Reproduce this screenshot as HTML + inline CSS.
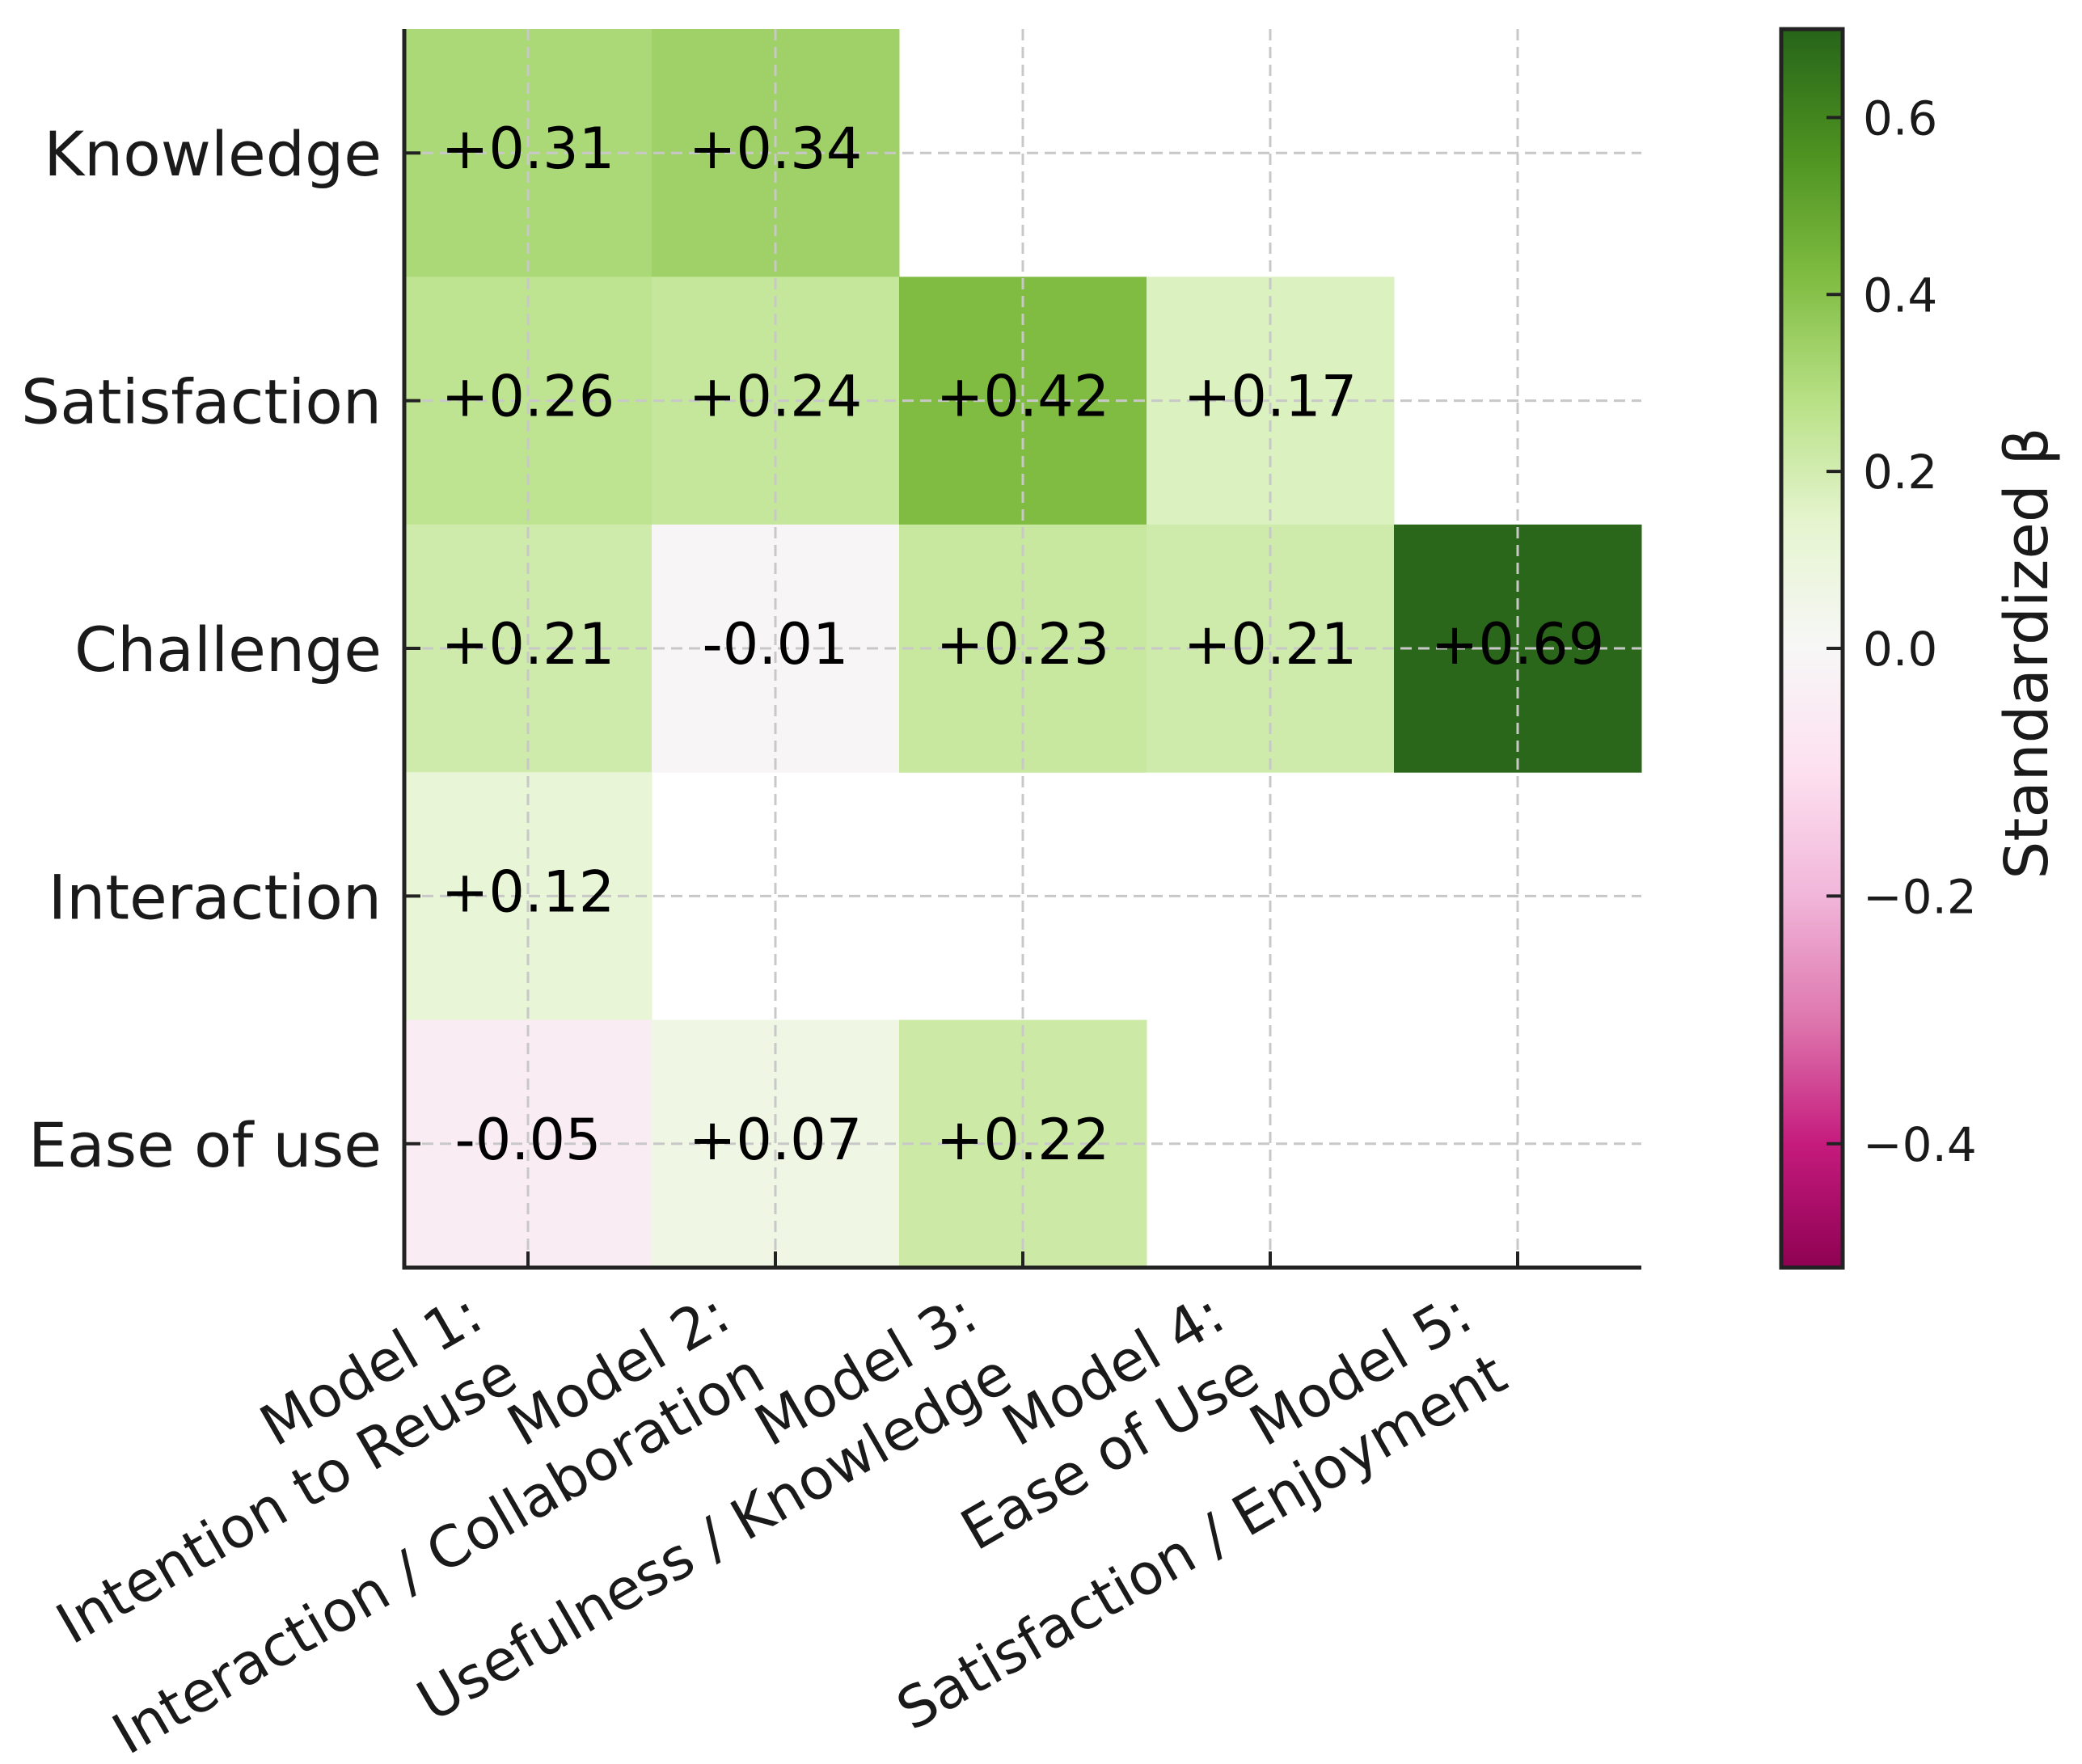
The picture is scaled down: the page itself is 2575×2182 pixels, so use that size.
<!DOCTYPE html>
<html><head><meta charset="utf-8"><style>
html,body{margin:0;padding:0;background:#fff}
svg{display:block}
text{font-family:"DejaVu Sans","Liberation Sans",sans-serif;fill:#1a1a1a}
</style></head><body>
<svg id="chart" width="2575" height="2182" viewBox="0 0 2575 2182" xmlns="http://www.w3.org/2000/svg">
<defs>
<linearGradient id="cbgrad" x1="0" y1="1" x2="0" y2="0">
<stop offset="0" stop-color="#8e0152"/><stop offset="0.1" stop-color="#c51b7d"/><stop offset="0.2" stop-color="#de77ae"/><stop offset="0.3" stop-color="#f1b6da"/><stop offset="0.4" stop-color="#fde0ef"/><stop offset="0.5" stop-color="#f7f7f7"/><stop offset="0.6" stop-color="#e6f5d0"/><stop offset="0.7" stop-color="#b8e186"/><stop offset="0.8" stop-color="#7fbc41"/><stop offset="0.9" stop-color="#4d9221"/><stop offset="1" stop-color="#276419"/>
</linearGradient>
</defs>
<g id="cells"></g>
<g id="grid"></g>
<g id="annots"></g>
<g id="axes"></g>
<g id="cbar"></g>
</svg>
<script>
const rowLabels = ["Knowledge","Satisfaction","Challenge","Interaction","Ease of use"];
const colLine1 = ["Model 1:","Model 2:","Model 3:","Model 4:","Model 5:"];
const colLine2 = ["Intention to Reuse","Interaction / Collaboration","Usefulness / Knowledge","Ease of Use","Satisfaction / Enjoyment"];
const model1 = [0.31,0.26,0.21,0.12,-0.05];
const model2 = [0.34,0.24,-0.01,null,0.07];
const model3 = [null,0.42,0.23,null,0.22];
const model4 = [null,0.17,0.21,null,null];
const model5 = [null,null,0.69,null,null];
const cbTicks = [0.6,0.4,0.2,0.0,-0.2,-0.4];
const vmin = -0.5, vmax = 0.70;

const models = [model1,model2,model3,model4,model5];
const NS = "http://www.w3.org/2000/svg";
const L = 500, R = 2030, T = 36, B = 1568;
const cw = (R - L) / colLine1.length, ch = (B - T) / rowLabels.length;
const xC = i => L + cw * (i + 0.5);
const yC = j => T + ch * (j + 0.5);

const stops = ["#8e0152","#c51b7d","#de77ae","#f1b6da","#fde0ef","#f7f7f7","#e6f5d0","#b8e186","#7fbc41","#4d9221","#276419"];
function hex(c){return [1,3,5].map(k=>parseInt(c.substr(k,2),16));}
function norm(v){return v>=0 ? 0.5+0.5*v/vmax : 0.5-0.5*v/vmin;}
function cmap(v){
  let f = Math.max(0,Math.min(1,norm(v)))*10;
  let i = Math.min(9,Math.floor(f)), t = f - i;
  const a = hex(stops[i]), b = hex(stops[i+1]);
  return "rgb(" + a.map((x,k)=>Math.round(x+(b[k]-x)*t)).join(",") + ")";
}
function el(tag, attrs, parent){
  const e = document.createElementNS(NS, tag);
  for (const k in attrs) e.setAttribute(k, attrs[k]);
  parent.appendChild(e); return e;
}
const cells = document.getElementById("cells"), annots = document.getElementById("annots");
const grid = document.getElementById("grid"), axes = document.getElementById("axes"), cbar = document.getElementById("cbar");

models.forEach((col, i) => {
  col.forEach((v, j) => {
    if (v === null) return;
    const r = el("rect", {x: L + cw*i, y: T + ch*j, width: cw+0.5, height: ch+0.5, fill: cmap(v)}, cells);
    
    
    const t = el("text", {x: xC(i), y: yC(j) + 19, "text-anchor": "middle", "font-size": 70, style: "fill:#000"}, annots);
    t.textContent = (v >= 0 ? "+" : "-") + Math.abs(v).toFixed(2);
    
    
  });
});

colLine1.forEach((c, i) => {
  const g = el("line", {x1: xC(i), x2: xC(i), y1: T, y2: B, stroke: "#c8c8c8", "stroke-width": 3, "stroke-dasharray": "14 8"}, grid);
  
  
});
rowLabels.forEach((r, j) => {
  const g = el("line", {x1: L, x2: R, y1: yC(j), y2: yC(j), stroke: "#c8c8c8", "stroke-width": 3, "stroke-dasharray": "14 8"}, grid);
  
  
});

let s = el("line", {x1: L, x2: L, y1: T, y2: B+2.5, stroke: "#222", "stroke-width": 5}, axes);
 
s = el("line", {x1: L-2.5, x2: R, y1: B, y2: B, stroke: "#222", "stroke-width": 5}, axes);
 

rowLabels.forEach((r, j) => {
  const tk = el("line", {x1: L, x2: L+20, y1: yC(j), y2: yC(j), stroke: "#222", "stroke-width": 4}, axes);
   
  const t = el("text", {x: 472, y: yC(j) + 28, "text-anchor": "end", "font-size": 76}, axes);
  t.textContent = r;
   
});
colLine1.forEach((c, i) => {
  const tk = el("line", {x1: xC(i), x2: xC(i), y1: B, y2: B-20, stroke: "#222", "stroke-width": 4}, axes);
   
  const ax = xC(i) - 52, ay = 1640;
  const t = el("text", {transform: "translate(" + ax + "," + ay + ") rotate(-30)", "text-anchor": "end", "font-size": 70}, axes);
   
  const a = el("tspan", {x: 0, y: 0}, t); a.textContent = c;
  const b = el("tspan", {x: 0, y: 86}, t); b.textContent = colLine2[i];
});

const CL = 2203, CR = 2279;
const cby = v => v >= 0 ? (T + (B-T)/2) - (v/vmax)*((B-T)/2) : (T + (B-T)/2) + (v/vmin)*((B-T)/2);
let cb = el("rect", {x: CL, y: T, width: CR-CL, height: B-T, fill: "url(#cbgrad)", stroke: "#222", "stroke-width": 5}, cbar);
 
cbTicks.forEach(v => {
  const y = cby(v);
  const tk = el("line", {x1: CR, x2: CR-20, y1: y, y2: y, stroke: "#222", "stroke-width": 4}, cbar);
   
  const t = el("text", {x: 2304, y: y + 21, "font-size": 58}, cbar);
  t.textContent = (v < 0 ? "\u2212" : "") + Math.abs(v).toFixed(1);
   
});
const lab = el("text", {transform: "translate(2532,808) rotate(-90)", "text-anchor": "middle", "font-size": 74}, cbar);
lab.textContent = "Standardized \u03b2";
 
</script>
</body></html>
